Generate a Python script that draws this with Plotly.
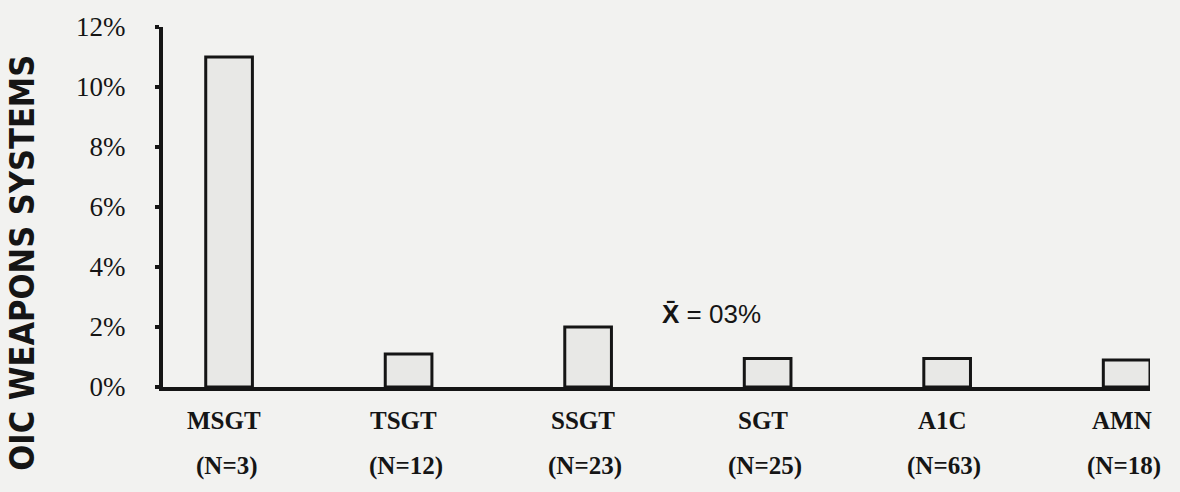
import plotly.graph_objects as go

ranks = ["MSGT", "TSGT", "SSGT", "SGT", "A1C", "AMN"]
counts = ["(N=3)", "(N=12)", "(N=23)", "(N=25)", "(N=63)", "(N=18)"]
percent = [11.0, 1.1, 2.0, 0.95, 0.95, 0.9]
y_ticks = [0, 2, 4, 6, 8, 10, 12]
y_tick_text = ["0%", "2%", "4%", "6%", "8%", "10%", "12%"]
mean_label = "<b>X\u0304</b> = 03%"
mean_pos = (2.69, 2.43)
y_title = "OIC WEAPONS SYSTEMS"

xs = list(range(len(ranks)))
ink = "#151515"

fig = go.Figure()
fig.add_trace(go.Bar(
    x=xs, y=percent, width=0.26,
    marker=dict(color="#e8e8e6", line=dict(color=ink, width=3)),
    showlegend=False,
))

for x, r, n in zip(xs, ranks, counts):
    fig.add_annotation(
        x=x, y=0, xref="x", yref="paper", yanchor="middle",
        yshift=-33, xshift=-5, text=f"<b>{r}</b>", showarrow=False,
        font=dict(family="Liberation Serif", size=25, color=ink),
    )
    fig.add_annotation(
        x=x, y=0, xref="x", yref="paper", yanchor="middle",
        yshift=-79, xshift=-3, text=f"<b>{n}</b>", showarrow=False,
        font=dict(family="Liberation Serif", size=25, color=ink),
    )

fig.add_annotation(
    x=mean_pos[0], y=mean_pos[1], xref="x", yref="y",
    text=mean_label, showarrow=False,
    font=dict(family="Liberation Sans", size=26, color=ink),
)
fig.add_annotation(
    x=-0.143, y=0.345, xref="paper", yref="paper",
    xanchor="center", yanchor="middle",
    text=f"<b>{y_title}</b>", textangle=-90, showarrow=False,
    font=dict(family="DejaVu Sans Condensed, DejaVu Sans", size=34, color=ink),
)

fig.update_layout(
    width=1180, height=492,
    margin=dict(l=163, r=30, t=17, b=105),
    paper_bgcolor="#f2f2f0", plot_bgcolor="#f2f2f0",
    xaxis=dict(
        range=[-0.368, 5.13], tickmode="array", tickvals=xs, ticktext=["" for _ in xs],
        showgrid=False, zeroline=False, showline=True, linecolor=ink, linewidth=4,
        ticks="",
    ),
    yaxis=dict(
        range=[0, 12], tickmode="array", tickvals=y_ticks, ticktext=y_tick_text,
        showgrid=False, zeroline=False, showline=True, linecolor=ink, linewidth=4,
        ticks="outside", ticklen=4, tickwidth=4, tickcolor=ink,
        tickfont=dict(family="Liberation Serif", size=27, color=ink),
        ticklabelstandoff=24,
    ),
)

fig.write_html("out.html", config={"displayModeBar": False},
               post_script="document.body.style.margin='0';")
